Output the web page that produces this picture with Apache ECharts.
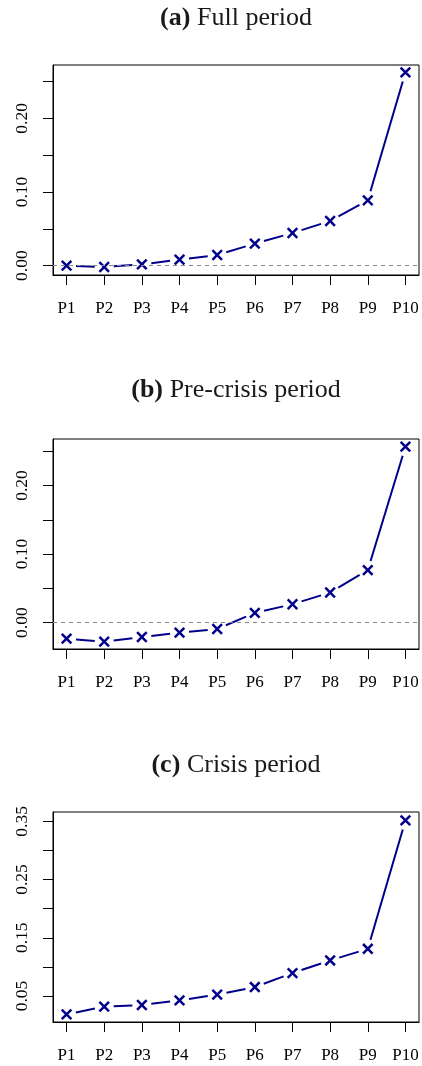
<!DOCTYPE html>
<html>
<head>
<meta charset="utf-8">
<script src="https://cdn.jsdelivr.net/npm/echarts@6/dist/echarts.min.js"></script>
<style>
html,body{margin:0;padding:0;background:#fff;}
#chart{width:422px;height:1066px;}
</style>
</head>
<body>
<div id="chart"></div>
<script>
// ---- data ----
const categories = ['P1','P2','P3','P4','P5','P6','P7','P8','P9','P10'];
const fullValues = [0.0000, -0.0018, 0.0018, 0.0081, 0.0145, 0.0299, 0.0443, 0.0606, 0.0887, 0.2624];
const preValues = [-0.0234, -0.0278, -0.0210, -0.0146, -0.0093, 0.0141, 0.0268, 0.0439, 0.0766, 0.2566];
const crisisValues = [0.0186, 0.0317, 0.0346, 0.0426, 0.0523, 0.0654, 0.0894, 0.1111, 0.1311, 0.3517];
const titlesBold = ['(a)', '(b)', '(c)'];
const titlesText = ['Full period', 'Pre-crisis period', 'Crisis period'];
const fullTicks = [0.00, 0.05, 0.10, 0.15, 0.20, 0.25];
const fullTickLabels = [0.00, 0.10, 0.20];
const preTicks = [0.00, 0.05, 0.10, 0.15, 0.20, 0.25];
const preTickLabels = [0.00, 0.10, 0.20];
const crisisTicks = [0.05, 0.10, 0.15, 0.20, 0.25, 0.30, 0.35];
const crisisTickLabels = [0.05, 0.15, 0.25, 0.35];
const yRanges = [[-0.0127, 0.2724], [-0.0385, 0.2678], [0.0054, 0.3660]];
const zeroLine = [true, true, false];

// ---- layout / style ----
const LINE = '#00008B';
const SERIF = '"Liberation Serif", "Times New Roman", serif';
const gridTops = [65, 439, 812];
const gridH = 210;
const gridLeft = 53;
const gridW = 366;
const titleY = [18, 390, 765];

const seriesVals = [fullValues, preValues, crisisValues];
const tickSets = [fullTicks, preTicks, crisisTicks];
const labelSets = [fullTickLabels, preTickLabels, crisisTickLabels];

const grids = [], xAxes = [], yAxes = [], series = [], graphics = [];

function renderItem(params, api) {
  const p = api.coord([api.value(0), api.value(1)]);
  const s = 4.8;
  const children = [
    {type:'line', shape:{x1:p[0]-s, y1:p[1]-s, x2:p[0]+s, y2:p[1]+s}, style:{stroke:LINE, lineWidth:2.5}},
    {type:'line', shape:{x1:p[0]-s, y1:p[1]+s, x2:p[0]+s, y2:p[1]-s}, style:{stroke:LINE, lineWidth:2.5}}
  ];
  if (params.dataIndex > 0) {
    const q = api.coord([api.value(2), api.value(3)]);
    const dx = p[0]-q[0], dy = p[1]-q[1];
    const len = Math.sqrt(dx*dx+dy*dy);
    const gap = 9.5;
    if (len > 2*gap) {
      children.push({type:'line', shape:{
        x1:q[0]+dx/len*gap, y1:q[1]+dy/len*gap,
        x2:p[0]-dx/len*gap, y2:p[1]-dy/len*gap}, style:{stroke:LINE, lineWidth:2}});
    }
  }
  return {type:'group', children};
}

for (let k = 0; k < 3; k++) {
  grids.push({left:gridLeft, top:gridTops[k], width:gridW, height:gridH,
    show:true, borderColor:'#000', borderWidth:1, backgroundColor:'transparent'});
  xAxes.push({type:'value', gridIndex:k, min:0.64, max:10.36,
    axisLine:{show:true, onZero:false, lineStyle:{color:'#000', width:1}},
    axisTick:{show:true, length:10, lineStyle:{color:'#000', width:1}, customValues:[1,2,3,4,5,6,7,8,9,10]},
    axisLabel:{show:true, customValues:[1,2,3,4,5,6,7,8,9,10], margin:25,
      formatter:(v)=>categories[Math.round(v)-1], color:'#000', fontFamily:SERIF, fontSize:17},
    splitLine:{show:false}});
  yAxes.push({type:'value', gridIndex:k, min:yRanges[k][0], max:yRanges[k][1],
    axisLine:{show:true, lineStyle:{color:'#000', width:1}},
    axisTick:{show:true, length:10, lineStyle:{color:'#000', width:1}, customValues:tickSets[k]},
    axisLabel:{show:true, customValues:labelSets[k], rotate:90, margin:22,
      formatter:(v)=>v.toFixed(2), color:'#000', fontFamily:SERIF, fontSize:17.5},
    splitLine:{show:false}});
  const vals = seriesVals[k];
  const data = vals.map((v,i)=>[i+1, v, i>0? i : 0, i>0? vals[i-1] : 0]);
  const s = {type:'custom', xAxisIndex:k, yAxisIndex:k, data:data,
    encode:{x:0, y:1}, renderItem:renderItem, silent:true, clip:false, z:3};
  if (zeroLine[k]) {
    s.markLine = {silent:true, symbol:'none', label:{show:false}, animation:false,
      lineStyle:{color:'#888', type:[4,4], width:1},
      data:[{yAxis:0}]};
  }
  series.push(s);
  graphics.push({type:'text', x:gridLeft+gridW/2, y:titleY[k], style:{
    text:'{b|'+titlesBold[k]+'}  {n|'+titlesText[k]+'}',
    textAlign:'center', textVerticalAlign:'middle',
    rich:{
      b:{fontFamily:SERIF, fontWeight:'bold', fontSize:26, fill:'#1a1a1a'},
      n:{fontFamily:SERIF, fontSize:26, fill:'#1a1a1a'}
    }}});
}

const chart = echarts.init(document.getElementById('chart'), null, {renderer:'canvas'});
chart.setOption({
  animation:false,
  backgroundColor:'#fff',
  grid:grids, xAxis:xAxes, yAxis:yAxes, series:series, graphic:graphics
});
</script>
</body>
</html>
